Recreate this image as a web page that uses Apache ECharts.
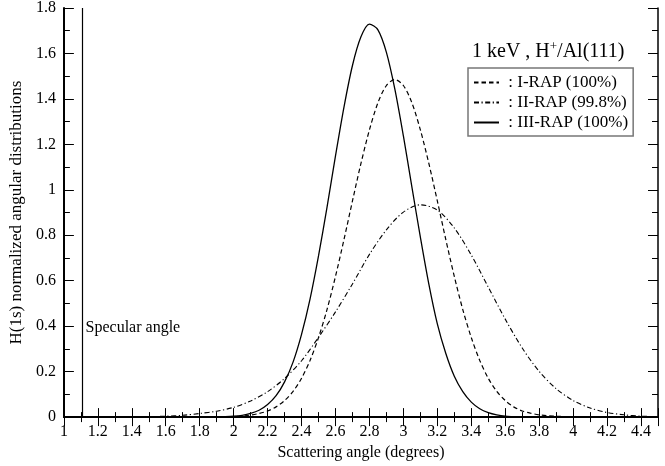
<!DOCTYPE html>
<html>
<head>
<meta charset="utf-8">
<script src="https://cdn.jsdelivr.net/npm/echarts@6/dist/echarts.min.js"></script>
<style>html,body{margin:0;padding:0;background:#fff}#c{width:665px;height:466px}</style>
</head>
<body>
<div id="c"></div>
<script>
// ---- data ----
const seriesNames = ['I-RAP (100%)', 'II-RAP (99.8%)', 'III-RAP (100%)'];
const xTickLabels = ['1','1.2','1.4','1.6','1.8','2','2.2','2.4','2.6','2.8','3','3.2','3.4','3.6','3.8','4','4.2','4.4'];
const yTickLabels = ['0','0.2','0.4','0.6','0.8','1','1.2','1.4','1.6','1.8'];
const specularAngle = 1.11;

// I-RAP (dashed)
const xI = [1.80,1.85,1.90,1.95,2.00,2.05,2.10,2.15,2.20,2.25,2.30,2.35,2.40,2.45,2.50,2.55,2.60,2.65,2.70,2.75,2.80,2.85,2.90,2.95,3.00,3.05,3.10,3.15,3.20,3.25,3.30,3.35,3.40,3.45,3.50,3.55,3.60,3.65,3.70,3.75,3.80,3.85,3.90,3.95,4.00];
const yI = [0.000,0.0005,0.001,0.002,0.003,0.005,0.009,0.016,0.027,0.045,0.073,0.113,0.171,0.249,0.350,0.473,0.619,0.781,0.951,1.116,1.264,1.383,1.459,1.485,1.459,1.383,1.264,1.116,0.951,0.781,0.619,0.473,0.350,0.249,0.171,0.113,0.073,0.045,0.027,0.017,0.010,0.006,0.004,0.002,0.001];

// II-RAP (dash-dot)
const xII = [1.5,1.6,1.7,1.8,1.9,2.0,2.1,2.2,2.3,2.4,2.5,2.6,2.7,2.8,2.9,3.0,3.1,3.2,3.3,3.4,3.5,3.6,3.7,3.8,3.9,4.0,4.1,4.2,4.3,4.4,4.5];
const yII = [0.002,0.004,0.008,0.016,0.026,0.043,0.071,0.112,0.170,0.248,0.351,0.463,0.586,0.716,0.824,0.902,0.934,0.911,0.832,0.713,0.572,0.431,0.304,0.201,0.125,0.073,0.040,0.020,0.010,0.004,0.002];

// III-RAP (solid)
const xIII = [1.80,1.85,1.90,1.95,2.00,2.05,2.10,2.15,2.20,2.25,2.30,2.35,2.40,2.45,2.50,2.55,2.60,2.65,2.70,2.75,2.80,2.85,2.90,2.95,3.00,3.05,3.10,3.15,3.20,3.25,3.30,3.35,3.40,3.45,3.50,3.55,3.60,3.65,3.70];
const yIII = [0.000,0.000,0.001,0.002,0.004,0.008,0.016,0.030,0.055,0.094,0.155,0.242,0.364,0.519,0.709,0.923,1.149,1.364,1.547,1.673,1.729,1.704,1.605,1.442,1.237,1.013,0.792,0.585,0.410,0.280,0.180,0.112,0.066,0.037,0.020,0.010,0.004,0.002,0.000];

// ---- chart ----
const FONT = '"Liberation Serif", "DejaVu Serif", serif';
const pair = (xs, ys) => xs.map((x, i) => [x, ys[i]]);
const chart = echarts.init(document.getElementById('c'), null, {renderer: 'canvas'});

const xCommon = {
  type: 'value', min: 1, max: 4.5, interval: 0.2,
  splitLine: {show: false},
  axisTick: {show: true, inside: true, length: 9, lineStyle: {color: '#000', width: 1}},
  minorTick: {show: true, splitNumber: 2, length: 5, lineStyle: {color: '#000', width: 1}},
  minorSplitLine: {show: false}
};
const yCommon = {
  type: 'value', min: 0, max: 1.8, interval: 0.2,
  splitLine: {show: false},
  axisTick: {show: true, inside: true, length: 10, lineStyle: {color: '#000', width: 1}},
  minorTick: {show: true, splitNumber: 2, length: 6, lineStyle: {color: '#000', width: 1}},
  minorSplitLine: {show: false}
};

const lineCommon = {type: 'line', showSymbol: false, symbol: 'none', smooth: 0.3, xAxisIndex: 0, yAxisIndex: 0, animation: false};

chart.setOption({
  backgroundColor: '#fff',
  animation: false,
  textStyle: {fontFamily: FONT, color: '#000'},
  grid: {left: 63, right: 7, top: 8, bottom: 42, containLabel: false},
  title: {
    text: '1 keV , H{sup|+}/Al(111)',
    left: 467, top: 35,
    textStyle: {
      fontFamily: FONT, fontSize: 20, fontWeight: 'normal', color: '#000',
      rich: {sup: {fontFamily: FONT, fontSize: 13, verticalAlign: 'top', padding: [0, 0, 10, 0], color: '#000'}}
    }
  },
  legend: {
    data: seriesNames,
    orient: 'vertical',
    left: 468, top: 68,
    borderColor: '#777', borderWidth: 1.5,
    padding: [6, 5, 5, 5],
    itemGap: 3,
    itemWidth: 25, itemHeight: 14,
    itemStyle: {opacity: 0, borderWidth: 0},
    formatter: n => ' : ' + n,
    textStyle: {fontFamily: FONT, fontSize: 17, color: '#000'},
    selectedMode: false
  },
  xAxis: [
    Object.assign({}, xCommon, {
      position: 'bottom',
      name: 'Scattering angle (degrees)', nameLocation: 'middle', nameGap: 22,
      nameTextStyle: {fontFamily: FONT, fontSize: 16, color: '#000'},
      axisLine: {show: true, lineStyle: {color: '#000', width: 2}},
      axisLabel: {show: true, fontFamily: FONT, fontSize: 16, color: '#000', margin: 7,
        formatter: v => { const s = String(+v.toFixed(1)); return xTickLabels.indexOf(s) >= 0 ? s : ''; }}
    }),
    Object.assign({}, xCommon, {
      position: 'top',
      axisLine: {show: true, lineStyle: {color: '#000', width: 1.5}},
      axisLabel: {show: false}
    })
  ],
  yAxis: [
    Object.assign({}, yCommon, {
      position: 'left',
      name: 'H(1s) normalized angular distributions', nameLocation: 'middle', nameGap: 24, nameRotate: 90,
      nameTextStyle: {fontFamily: FONT, fontSize: 17, color: '#000'},
      axisLine: {show: true, lineStyle: {color: '#000', width: 2}},
      axisLabel: {show: true, fontFamily: FONT, fontSize: 16, color: '#000', margin: 8,
        formatter: v => { const s = String(+v.toFixed(1)); return yTickLabels.indexOf(s) >= 0 ? s : ''; }}
    }),
    Object.assign({}, yCommon, {
      position: 'right',
      axisLine: {show: true, lineStyle: {color: '#000', width: 1.5}},
      axisLabel: {show: false}
    })
  ],
  series: [
    Object.assign({}, lineCommon, {
      name: seriesNames[0], data: pair(xI, yI),
      lineStyle: {color: '#000', width: 1.2, type: [4.5, 3]},
      itemStyle: {color: '#000'}
    }),
    Object.assign({}, lineCommon, {
      name: seriesNames[1], data: pair(xII, yII),
      lineStyle: {color: '#000', width: 1.1, type: [5, 2.5, 1.2, 2.5]},
      itemStyle: {color: '#000'}
    }),
    Object.assign({}, lineCommon, {
      name: seriesNames[2], data: pair(xIII, yIII),
      lineStyle: {color: '#000', width: 1.3, type: 'solid'},
      itemStyle: {color: '#000'}
    }),
    {
      name: 'Specular', type: 'scatter', xAxisIndex: 0, yAxisIndex: 0,
      data: [[specularAngle, 0.395]], symbolSize: 0, silent: true,
      itemStyle: {opacity: 1, color: '#000'},
      label: {show: true, position: 'right', distance: 3, formatter: 'Specular angle',
        fontFamily: FONT, fontSize: 16, color: '#000', opacity: 1},
      markLine: {
        silent: true, symbol: ['none', 'none'], label: {show: false},
        lineStyle: {color: '#000', width: 1.2, type: 'solid', opacity: 1},
        data: [{xAxis: specularAngle}]
      }
    }
  ]
});
</script>
</body>
</html>
